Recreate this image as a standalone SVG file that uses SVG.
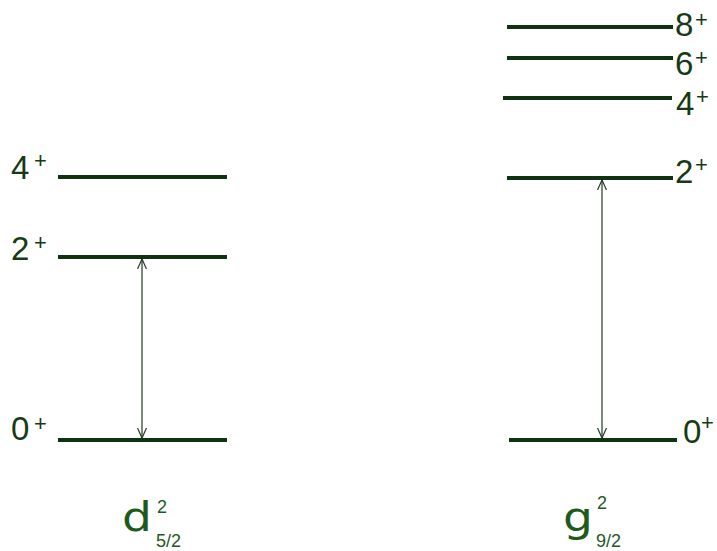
<svg xmlns="http://www.w3.org/2000/svg" width="717" height="551" viewBox="0 0 717 551">
<defs>
<style>
.lvl{stroke:#0f3312;stroke-width:4;fill:none}
.arr{stroke:#233a23;stroke-width:1.2;fill:none}
.num{font-family:"Liberation Sans",Arial,sans-serif;font-size:33px;fill:#163a16}
.plus{font-family:"Liberation Sans",Arial,sans-serif;font-size:22px;fill:#163a16}
.orb{font-family:"DejaVu Sans","Liberation Sans",sans-serif;font-size:41px;fill:#1e5a1e}
.sm{font-family:"Liberation Sans",Arial,sans-serif;font-size:18px;fill:#1e5a1e}
</style>
<marker id="ah" viewBox="0 0 10 10" refX="10" refY="5" markerWidth="10" markerHeight="10" markerUnits="userSpaceOnUse" orient="auto-start-reverse">
<path d="M0,0.5 L10,5 L0,9.5" fill="none" stroke="#233a23" stroke-width="1.2"/>
</marker>
</defs>
<rect width="717" height="551" fill="#ffffff"/>
<g id="d-4plus"><line class="lvl" x1="58" y1="177" x2="227" y2="177"/><text class="num" x="11" y="179">4</text><text class="plus" x="34" y="168">+</text></g>
<g id="d-2plus"><line class="lvl" x1="58" y1="257" x2="227" y2="257"/><text class="num" x="11" y="260">2</text><text class="plus" x="34" y="250">+</text></g>
<g id="d-0plus"><line class="lvl" x1="58" y1="440" x2="227" y2="440"/><text class="num" x="11" y="440">0</text><text class="plus" x="34" y="431">+</text></g>
<g id="g-8plus"><line class="lvl" x1="507" y1="27" x2="673" y2="27"/><text class="num" x="675" y="36">8</text><text class="plus" x="695" y="27">+</text></g>
<g id="g-6plus"><line class="lvl" x1="507" y1="58" x2="673" y2="58"/><text class="num" x="675" y="75">6</text><text class="plus" x="695" y="65">+</text></g>
<g id="g-4plus"><line class="lvl" x1="503" y1="98" x2="672" y2="98"/><text class="num" x="676" y="115">4</text><text class="plus" x="696" y="104">+</text></g>
<g id="g-2plus"><line class="lvl" x1="507" y1="178" x2="673" y2="178"/><text class="num" x="675" y="183">2</text><text class="plus" x="695" y="172">+</text></g>
<g id="g-0plus"><line class="lvl" x1="509" y1="440" x2="677" y2="440"/><text class="num" x="683" y="443">0</text><text class="plus" x="701" y="430">+</text></g>
<g id="connectors">
<line class="arr" x1="142" y1="259" x2="142" y2="438" marker-start="url(#ah)" marker-end="url(#ah)"/>
<line class="arr" x1="602" y1="180" x2="602" y2="438" marker-start="url(#ah)" marker-end="url(#ah)"/>
</g>
<g id="label-d"><text class="orb" transform="translate(122 531) scale(1.15 1)">d</text><text class="sm" x="157" y="513">2</text><text class="sm" x="156" y="547">5/2</text></g>
<g id="label-g"><text class="orb" transform="translate(563 531) scale(1.15 1)">g</text><text class="sm" x="597" y="509">2</text><text class="sm" x="596" y="547">9/2</text></g>
</svg>
